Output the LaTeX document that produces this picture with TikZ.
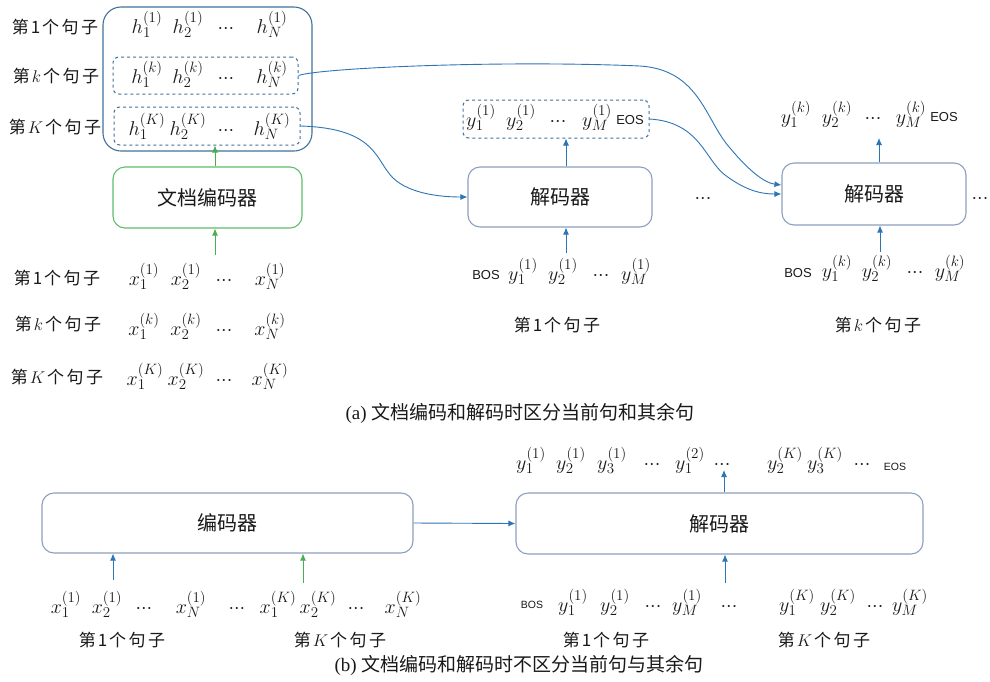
\RequirePackage{fix-cm}
\documentclass[tikz,border=0pt]{standalone}
\usepackage{fontspec}
\setmainfont{Liberation Serif}
\newfontfamily\cjk{Noto Sans CJK SC}
\newfontfamily\sansf{Liberation Sans}
\usetikzlibrary{arrows.meta}
\DeclareMathSizes{20}{20}{15}{11}
\definecolor{bbox}{RGB}{65,113,156}
\definecolor{dbox}{RGB}{140,160,190}
\definecolor{gbox}{RGB}{95,190,105}
\definecolor{garr}{RGB}{70,175,80}
\definecolor{barr}{RGB}{46,117,182}
\definecolor{txt}{RGB}{25,25,25}
\newcommand\mfont{\fontsize{20}{24}\selectfont}
\newcommand\dts{\ensuremath{\mathord{\cdotp}\mathord{\cdotp}\mathord{\cdotp}}}
\tikzset{
  tok/.style={font=\mfont, inner sep=0pt, anchor=base, text=txt},
  lab/.style={font=\cjk\fontsize{17}{20}\selectfont, inner sep=0pt, text=txt},
  sym/.style={font=\sansf\fontsize{13}{15}\selectfont, inner sep=0pt, anchor=base, text=txt},
  ssym/.style={font=\sansf\fontsize{10.5}{12}\selectfont, inner sep=0pt, anchor=base, text=txt},
  boxtxt/.style={font=\cjk\fontsize{20}{24}\selectfont, text=txt},
  bigbox/.style={draw=bbox, line width=1.1pt, rounded corners=18pt, inner sep=0pt},
  dbox/.style={draw=bbox, dashed, line width=1pt, rounded corners=6pt, inner sep=0pt},
  decbox/.style={draw=dbox, line width=1.1pt, rounded corners=12pt, inner sep=0pt, boxtxt},
  encbox/.style={draw=gbox, line width=1.1pt, rounded corners=12pt, inner sep=0pt, boxtxt},
  barrow/.style={draw=barr, line width=0.9pt, -{Latex[length=7pt,width=6pt]}},
  garrow/.style={draw=garr, line width=0.9pt, -{Latex[length=7pt,width=6pt]}},
  captxt/.style={font=\fontsize{19}{22}\selectfont, inner sep=0pt, text=txt},
}
\newcommand\sent[1]{第\hspace{2pt}#1\hspace{2pt}个\hspace{2.5pt}句\hspace{2.5pt}子}
\begin{document}
\begin{tikzpicture}[x=1pt,y=-1pt]
\useasboundingbox (0,0) rectangle (990,681);
\fill[white] (0,0) rectangle (990,681);

% ---------- (a) ----------
\node[bigbox, minimum width=209pt, minimum height=144pt] (big) at (207.5,79) {};
\node[dbox, minimum width=185pt, minimum height=37pt] (dbk) at (205.5,75.5) {};
\node[dbox, minimum width=186pt, minimum height=38pt] (dbK) at (207,126) {};
\node[encbox, minimum width=189pt, minimum height=61pt] (enc) at (207.5,197.5) {文档编码器};

\node[lab] (l1) at (55,27) {\sent{1}};
\node[lab] (lk) at (56,76) {\sent{$k$}};
\node[lab] (lK) at (55,127) {\sent{$K$}};

\node[tok] (h11) at (147,33) {$h_1^{(1)}$};
\node[tok] (h12) at (188,33) {$h_2^{(1)}$};
\node[tok] (h1d) at (226,33) {\dts};
\node[tok] (h1N) at (272,33) {$h_N^{(1)}$};
\node[tok] (hk1) at (147,83) {$h_1^{(k)}$};
\node[tok] (hk2) at (188,83) {$h_2^{(k)}$};
\node[tok] (hkd) at (226,83) {\dts};
\node[tok] (hkN) at (272,83) {$h_N^{(k)}$};
\node[tok] (hK1) at (147,135) {$h_1^{(K)}$};
\node[tok] (hK2) at (188,135) {$h_2^{(K)}$};
\node[tok] (hKd) at (226,135) {\dts};
\node[tok] (hKN) at (272,135) {$h_N^{(K)}$};

\node[lab] (xl1) at (57,278) {\sent{1}};
\node[lab] (xlk) at (58,324) {\sent{$k$}};
\node[lab] (xlK) at (57,377) {\sent{$K$}};

\node[tok] (x11) at (144,285) {$x_1^{(1)}$};
\node[tok] (x12) at (186,285) {$x_2^{(1)}$};
\node[tok] (x1d) at (224,285) {\dts};
\node[tok] (x1N) at (270,285) {$x_N^{(1)}$};
\node[tok] (xk1) at (144,335) {$x_1^{(k)}$};
\node[tok] (xk2) at (186,335) {$x_2^{(k)}$};
\node[tok] (xkd) at (224,335) {\dts};
\node[tok] (xkN) at (270,335) {$x_N^{(k)}$};
\node[tok] (xK1) at (145,385) {$x_1^{(K)}$};
\node[tok] (xK2) at (186,385) {$x_2^{(K)}$};
\node[tok] (xKd) at (224,385) {\dts};
\node[tok] (xKN) at (270,385) {$x_N^{(K)}$};

\coordinate (ga) at (215,0);
\draw[garrow] (enc.north -| ga) -- (dbK.south -| ga);
\coordinate (gb) at (215,255);
\draw[garrow] (gb) -- (enc.south -| gb);

% middle decoder
\node[decbox, minimum width=184pt, minimum height=60pt] (dec1) at (560,197) {解码器};
\node[dbox, minimum width=186pt, minimum height=38pt] (out1) at (556,119) {};
\node[tok] (o11) at (481,126) {$y_1^{(1)}$};
\node[tok] (o12) at (521,126) {$y_2^{(1)}$};
\node[tok] (o1d) at (558,126) {\dts};
\node[tok] (o1M) at (597,126) {$y_M^{(1)}$};
\node[sym] (o1e) at (630,124) {EOS};
\node[sym] (i1b) at (486,279) {BOS};
\node[tok] (i11) at (523,280) {$y_1^{(1)}$};
\node[tok] (i12) at (563,280) {$y_2^{(1)}$};
\node[tok] (i1d) at (601,280) {\dts};
\node[tok] (i1M) at (636,280) {$y_M^{(1)}$};
\node[lab] (ml1) at (557,325) {\sent{1}};
\coordinate (ma) at (566,0);
\draw[barrow] (dec1.north -| ma) -- (out1.south -| ma);
\coordinate (mb) at (566,253);
\draw[barrow] (mb) -- (dec1.south -| mb);

\node[tok] (md) at (703,203) {\dts};

% right decoder
\node[decbox, minimum width=184pt, minimum height=62pt] (dec2) at (874,194) {解码器};
\node[tok] (ok1) at (796,123) {$y_1^{(k)}$};
\node[tok] (ok2) at (837,123) {$y_2^{(k)}$};
\node[tok] (okd) at (873,123) {\dts};
\node[tok] (okM) at (911,123) {$y_M^{(k)}$};
\node[sym] (oke) at (944,121) {EOS};
\node[sym] (ikb) at (798,277) {BOS};
\node[tok] (ik1) at (837,277) {$y_1^{(k)}$};
\node[tok] (ik2) at (877,277) {$y_2^{(k)}$};
\node[tok] (ikd) at (915,277) {\dts};
\node[tok] (ikM) at (950,277) {$y_M^{(k)}$};
\node[lab] (mlk) at (878,325) {\sent{$k$}};
\coordinate (ra) at (879,138);
\draw[barrow] (dec2.north -| ra) -- (ra);
\coordinate (rb) at (880,252);
\draw[barrow] (rb) -- (dec2.south -| rb);
\node[tok] (rd) at (980,203) {\dts};

% curves
\draw[barrow] (dbk.east) .. controls (320,68) and (500,60) .. (640,66)
  .. controls (700,70) and (705,120) .. (730,148)
  .. controls (750,172) and (765,183) .. ([yshift=9pt]dec2.west);
\draw[barrow] (out1.east) .. controls (700,122) and (705,160) .. (725,175)
  .. controls (745,190) and (760,194) .. (dec2.west);
\draw[barrow] (dbK.east) .. controls (370,128) and (375,155) .. (388,172)
  .. controls (400,190) and (430,197) .. (dec1.west);

\node[captxt] (capa) at (520,413) {(a)~{\cjk 文档编码和解码时区分当前句和其余句}};

% ---------- (b) ----------
\node[decbox, minimum width=371pt, minimum height=60pt] (benc) at (227.5,523) {编码器};
\node[decbox, minimum width=407pt, minimum height=61pt] (bdec) at (719.5,523.5) {解码器};
\draw[barrow] (benc.east) -- (bdec.west);

\node[tok] (bx11) at (66,613) {$x_1^{(1)}$};
\node[tok] (bx12) at (107,613) {$x_2^{(1)}$};
\node[tok] (bx1d) at (144,613) {\dts};
\node[tok] (bx1N) at (191,613) {$x_N^{(1)}$};
\node[tok] (bxd) at (237,613) {\dts};
\node[tok] (bxK1) at (278,613) {$x_1^{(K)}$};
\node[tok] (bxK2) at (318,613) {$x_2^{(K)}$};
\node[tok] (bxKd) at (356,613) {\dts};
\node[tok] (bxKN) at (403,613) {$x_N^{(K)}$};
\node[lab] (bl1) at (122,640) {\sent{1}};
\node[lab] (blK) at (340,640) {\sent{$K$}};
\coordinate (ba) at (113,580);
\draw[barrow] (ba) -- (benc.south -| ba);
\coordinate (bb) at (303,583);
\draw[garrow] (bb) -- (benc.south -| bb);

\node[tok] (bo1) at (531,469) {$y_1^{(1)}$};
\node[tok] (bo2) at (571,469) {$y_2^{(1)}$};
\node[tok] (bo3) at (612,469) {$y_3^{(1)}$};
\node[tok] (bod1) at (652,469) {\dts};
\node[tok] (bo4) at (690,469) {$y_1^{(2)}$};
\node[tok] (bod2) at (722,469) {\dts};
\node[tok] (bo5) at (785,469) {$y_2^{(K)}$};
\node[tok] (bo6) at (825,469) {$y_3^{(K)}$};
\node[tok] (bod3) at (862,469) {\dts};
\node[ssym] (boe) at (895,470) {EOS};
\coordinate (bc) at (724,470);
\draw[barrow] (bdec.north -| bc) -- (bc);

\node[ssym] (bib) at (532,608) {BOS};
\node[tok] (bi1) at (573,611) {$y_1^{(1)}$};
\node[tok] (bi2) at (615,611) {$y_2^{(1)}$};
\node[tok] (bid1) at (653,611) {\dts};
\node[tok] (bi3) at (687,611) {$y_M^{(1)}$};
\node[tok] (bid2) at (729,611) {\dts};
\node[tok] (bi4) at (797,611) {$y_1^{(K)}$};
\node[tok] (bi5) at (838,611) {$y_2^{(K)}$};
\node[tok] (bid3) at (875,611) {\dts};
\node[tok] (bi6) at (910,611) {$y_M^{(K)}$};
\node[lab] (bl2) at (606,640) {\sent{1}};
\node[lab] (bl3) at (824,640) {\sent{$K$}};
\coordinate (bd) at (725,583);
\draw[barrow] (bd) -- (bdec.south -| bd);

\node[captxt] (capb) at (519,665) {(b)~{\cjk 文档编码和解码时不区分当前句与其余句}};
\end{tikzpicture}
\end{document}
